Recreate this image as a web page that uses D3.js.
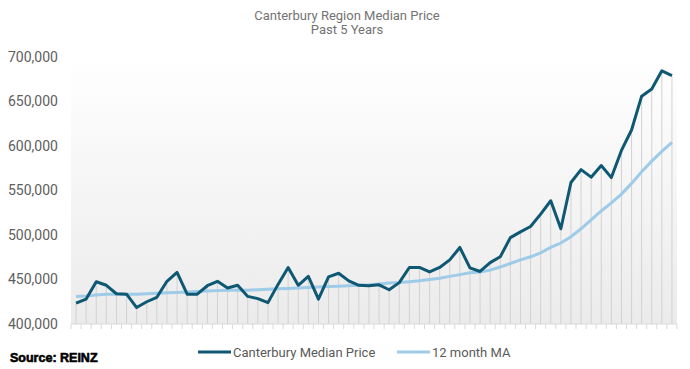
<!DOCTYPE html>
<html>
<head>
<meta charset="utf-8">
<script src="https://cdn.jsdelivr.net/npm/d3@7"></script>
<style>
  body { margin: 0; background: #fff; }
  svg { display: block; font-family: Roboto, "Noto Sans", sans-serif; }
</style>
</head>
<body>
<div id="chart"></div>
<script>
// monthly median price, Canterbury region
var medianPrice = [
  423500, 428000, 447500, 443500, 434000, 433500, 418500, 425000, 430000, 448000,
  458000, 433500, 433500, 443000, 448000, 440500, 443500, 431000, 428500, 424000,
  444500, 463500, 443500, 453500, 428000, 453000, 457000, 448500, 443500, 443000,
  444000, 438500, 446500, 463500, 463500, 458500, 463500, 472000, 486000, 463000,
  459000, 469000, 475500, 497000, 503500, 509500, 523500, 538500, 507000, 559000,
  573500, 565000, 578000, 564500, 595000, 618000, 656000, 664000, 684500, 679000
];
// 12 month moving average
var movingAvg = [
  431000, 431500, 432500, 433500, 433500, 433500, 433500, 434000, 434500, 435000,
  435500, 436000, 436500, 437000, 437500, 438000, 438000, 438000, 438500, 439000,
  439500, 440000, 440500, 441000, 441500, 442000, 442500, 443000, 443500, 444000,
  445000, 446000, 446500, 447500, 448500, 450000, 451500, 453500, 455500, 457500,
  458500, 460500, 464000, 468000, 472000, 475500, 480000, 486000, 491000, 498000,
  507000, 517000, 527000, 536000, 546000, 558000, 571000, 583000, 594000, 604000
];
var yTicks = [400000, 450000, 500000, 550000, 600000, 650000, 700000];
var seriesNames = ['Canterbury Median Price', '12 month MA'];
var seriesColors = ['#0f5873', '#9dcbe8'];

var width = 690, height = 369;
var margin = { top: 57, right: 13, bottom: 45, left: 71 };
var innerW = width - margin.left - margin.right;
var innerH = height - margin.top - margin.bottom;

var svg = d3.select('#chart').append('svg')
    .attr('width', width)
    .attr('height', height);

var defs = svg.append('defs');
var grad = defs.append('linearGradient')
    .attr('id', 'bg').attr('x1', 0).attr('y1', 0).attr('x2', 0).attr('y2', 1);
grad.append('stop').attr('offset', '0%').attr('stop-color', '#ffffff');
grad.append('stop').attr('offset', '100%').attr('stop-color', '#ebebeb');

var x = d3.scaleBand()
    .domain(d3.range(medianPrice.length))
    .range([0, innerW]);
var y = d3.scaleLinear()
    .domain([400000, 700000])
    .range([innerH, 0]);

var g = svg.append('g')
    .attr('transform', 'translate(' + margin.left + ',' + margin.top + ')');

g.append('rect')
    .attr('width', innerW)
    .attr('height', innerH)
    .attr('fill', 'url(#bg)');

// drop lines from each point
g.append('g').selectAll('line')
  .data(medianPrice)
  .join('line')
    .attr('x1', function(d, i) { return x(i) + x.bandwidth() / 2; })
    .attr('x2', function(d, i) { return x(i) + x.bandwidth() / 2; })
    .attr('y1', function(d) { return y(d); })
    .attr('y2', innerH)
    .attr('stroke', '#d2d2d2')
    .attr('stroke-width', 1);

// x axis: ticks at category boundaries
var xAxis = g.append('g')
    .attr('transform', 'translate(0,' + innerH + ')');
xAxis.append('line')
    .attr('x1', 0).attr('x2', innerW)
    .attr('stroke', '#d9d9d9');
xAxis.selectAll('.tk')
  .data(d3.range(medianPrice.length + 1))
  .join('line')
    .attr('class', 'tk')
    .attr('x1', function(i) { return i * x.step(); })
    .attr('x2', function(i) { return i * x.step(); })
    .attr('y1', 0).attr('y2', 5)
    .attr('stroke', '#d9d9d9');

// y axis labels
var yAxis = g.append('g')
    .call(d3.axisLeft(y).tickValues(yTicks).tickFormat(d3.format(',')).tickSize(0).tickPadding(0));
yAxis.select('.domain').remove();
yAxis.selectAll('text')
    .attr('x', -63)
    .attr('text-anchor', 'start')
    .attr('fill', '#5e5e5e')
    .style('font-size', '14px')
    .style('font-family', 'Roboto, sans-serif');

var line = d3.line()
    .x(function(d, i) { return x(i) + x.bandwidth() / 2; })
    .y(function(d) { return y(d); });

g.append('path')
    .datum(movingAvg)
    .attr('fill', 'none')
    .attr('stroke', seriesColors[1])
    .attr('stroke-width', 3)
    .attr('d', line);

g.append('path')
    .datum(medianPrice)
    .attr('fill', 'none')
    .attr('stroke', seriesColors[0])
    .attr('stroke-width', 3)
    .attr('stroke-linejoin', 'round')
    .attr('d', line);

// title
svg.append('text')
    .attr('x', 347).attr('y', 20)
    .attr('text-anchor', 'middle')
    .attr('fill', '#737373')
    .style('font-size', '13px')
    .text('Canterbury Region Median Price');
svg.append('text')
    .attr('x', 347).attr('y', 34)
    .attr('text-anchor', 'middle')
    .attr('fill', '#737373')
    .style('font-size', '13px')
    .text('Past 5 Years');

// legend
var legendX = [198, 397];
var legend = svg.append('g').selectAll('g')
  .data(seriesNames)
  .join('g')
    .attr('transform', function(d, i) { return 'translate(' + legendX[i] + ',352)'; });
legend.append('line')
    .attr('x1', 0).attr('x2', 33)
    .attr('stroke', function(d, i) { return seriesColors[i]; })
    .attr('stroke-width', 3);
legend.append('text')
    .attr('x', 35).attr('y', 5)
    .attr('fill', '#5a5a5a')
    .style('font-size', '13px')
    .text(function(d) { return d; });

svg.append('text')
    .attr('x', 10).attr('y', 362)
    .attr('fill', '#000')
    .attr('stroke', '#000')
    .attr('stroke-width', 0.6)
    .style('font-size', '12.5px')
    .style('font-weight', '700')
    .style('font-family', '"Liberation Sans", Arial, sans-serif')
    .text('Source: REINZ');
</script>
</body>
</html>
